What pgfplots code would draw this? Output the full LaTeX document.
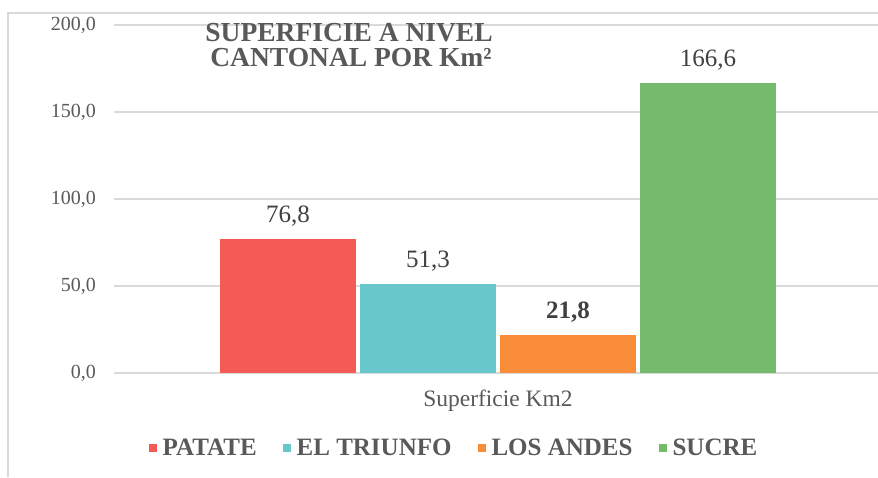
\documentclass[border=0pt]{standalone}
\usepackage{fontspec}
\setmainfont{Liberation Serif}
\usepackage{pgfplots}
\pgfplotsset{compat=1.18}
\definecolor{cPat}{HTML}{F65A55}
\definecolor{cTri}{HTML}{68C7CA}
\definecolor{cAnd}{HTML}{F98D3A}
\definecolor{cSuc}{HTML}{75BB6D}
\definecolor{gridc}{HTML}{D9D9D9}
\definecolor{txt}{HTML}{595959}
\definecolor{lbl}{HTML}{404040}
\begin{document}
\begin{tikzpicture}[x=1pt,y=1pt]
\useasboundingbox (0,0) rectangle (878,477);
\draw[gridc, line width=1.3pt] (8,0) -- (8,464) -- (878,464);
\begin{axis}[
  at={(114pt,104pt)}, anchor=south west,
  scale only axis, width=764pt, height=348pt,
  xmin=-384, xmax=380, ymin=0, ymax=200,
  ybar=4pt, bar width=136pt,
  axis line style={draw=none},
  ymajorgrids, grid style={gridc, line width=1.2pt},
  ytick={0,50,100,150,200},
  major tick length=0pt,
  xtick={0}, xticklabels={Superficie Km2},
  /pgf/number format/fixed,
  /pgf/number format/fixed zerofill,
  /pgf/number format/precision=1,
  /pgf/number format/use comma,
  /pgf/number format/assume math mode=true,
  yticklabel style={font=\fontsize{20}{24}\selectfont, text=txt, anchor=east, inner sep=0pt, xshift=-18pt},
  xticklabel style={font=\fontsize{23.5}{27}\selectfont, text=txt, anchor=base, inner sep=0pt, yshift=-33pt},
  nodes near coords,
  every node near coord/.append style={font=\fontsize{25}{29}\selectfont, text=lbl, anchor=base, inner sep=0pt, yshift=16.5pt},
  legend columns=4,
  legend image code/.code={\fill[#1] (0pt,-4pt) rectangle (8pt,4pt);},
  legend style={at={(0.445,-0.2155)}, anchor=center, draw=none, fill=none,
    font=\bfseries\fontsize{25}{29}\selectfont, text=txt,
    /tikz/every odd column/.append style={column sep=4pt},
    /tikz/every even column/.append style={column sep=24pt}},
]
\addplot[fill=cPat, draw=none] coordinates {(0,76.8)};
\addlegendentry{PATATE}
\addplot[fill=cTri, draw=none] coordinates {(0,51.3)};
\addlegendentry{EL TRIUNFO}
\addplot[fill=cAnd, draw=none, every node near coord/.append style={font=\bfseries\fontsize{25}{29}\selectfont}] coordinates {(0,21.8)};
\addlegendentry{LOS ANDES}
\addplot[fill=cSuc, draw=none] coordinates {(0,166.6)};
\addlegendentry{SUCRE}
\draw[gridc, line width=1.2pt] (axis cs:-384,0) -- ++(0pt,-7pt);
\end{axis}
\node[font=\bfseries\fontsize{27.5}{30}\selectfont, text=txt, anchor=base, inner sep=0pt, text height=19pt, text depth=0pt] at (349,435) {SUPERFICIE A NIVEL};
\node[font=\bfseries\fontsize{27.5}{30}\selectfont, text=txt, anchor=base, inner sep=0pt, text height=19pt, text depth=0pt] at (351,410) {CANTONAL POR Km²};
\end{tikzpicture}
\end{document}
